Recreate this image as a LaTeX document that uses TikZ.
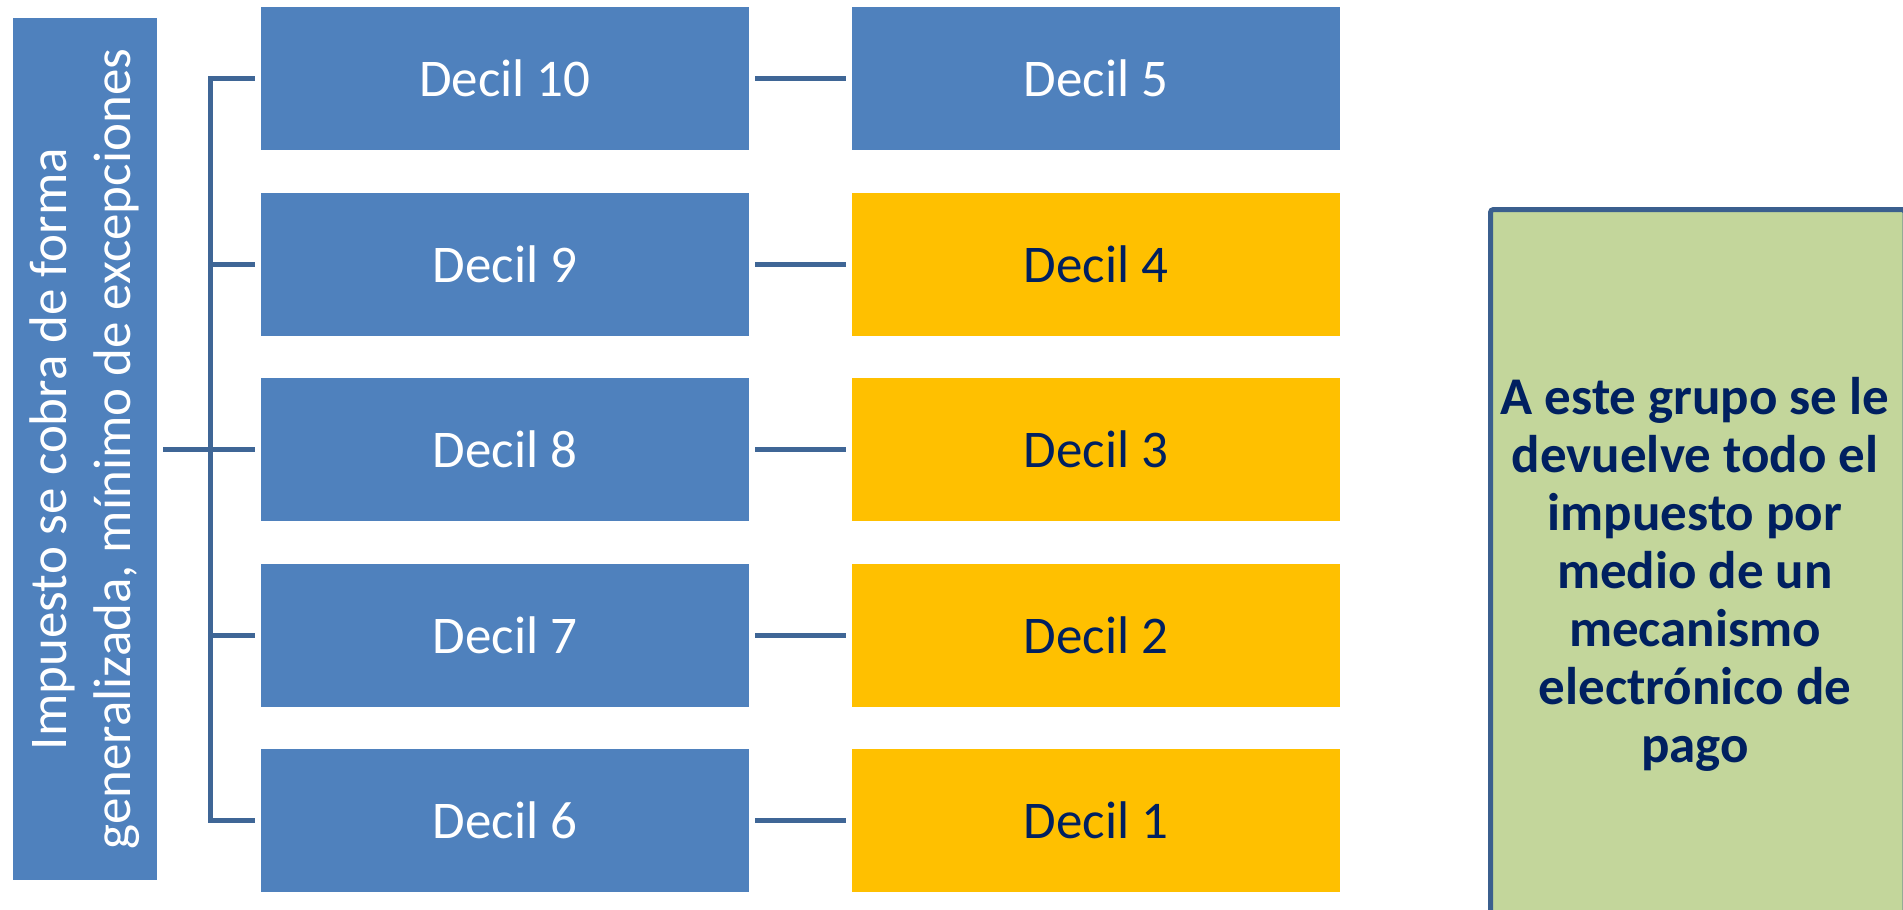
\documentclass[tikz,border=0pt]{standalone}
\usepackage{fontspec}
\setmainfont{Carlito}
\definecolor{boxblue}{HTML}{4F81BD}
\definecolor{boxyellow}{HTML}{FFC000}
\definecolor{boxgreen}{HTML}{C3D69B}
\definecolor{linkblue}{HTML}{3F6696}
\definecolor{greenedge}{HTML}{3B5F8E}
\definecolor{navy}{HTML}{002060}
\begin{document}
\begin{tikzpicture}[x=1pt,y=-1pt,
  decilbox/.style={rectangle, inner sep=0pt, minimum width=488pt, minimum height=143pt,
    font=\fontsize{53}{64}\selectfont},
  bluebox/.style={decilbox, fill=boxblue, text=white},
  yellowbox/.style={decilbox, fill=boxyellow, text=navy},
  conn/.style={draw=linkblue, line width=5pt}]
\useasboundingbox (0,0) rectangle (1903,910);
\clip (0,0) rectangle (1903,910);
% left box
\node[rectangle, fill=boxblue, text=white, inner sep=0pt, minimum width=144pt, minimum height=862pt,
  anchor=center] (L) at (85,449) {};
\node[rotate=90, text=white, align=center, font=\fontsize{53}{64}\selectfont] (Lt) at (L.center)
  {Impuesto se cobra de forma\\generalizada, mínimo de excepciones};
% columns
\node[bluebox] (d10) at (505,78.5) {Decil 10};
\node[bluebox] (d9) at (505,264) {Decil 9};
\node[bluebox] (d8) at (505,449.5) {Decil 8};
\node[bluebox] (d7) at (505,635) {Decil 7};
\node[bluebox] (d6) at (505,820.5) {Decil 6};
\node[bluebox] (d5) at (1096,78.5) {Decil 5};
\node[yellowbox] (d4) at (1096,264) {Decil 4};
\node[yellowbox] (d3) at (1096,449.5) {Decil 3};
\node[yellowbox] (d2) at (1096,635) {Decil 2};
\node[yellowbox] (d1) at (1096,820.5) {Decil 1};
% green box
\node[rectangle, draw=greenedge, line width=5pt, fill=boxgreen, rounded corners=3pt,
  minimum width=414.5pt, minimum height=731.5pt, inner sep=0pt] (G) at (1697.75,575.25) {};
\node[text=navy, align=center, font=\bfseries\fontsize{53}{58}\selectfont] (Gt) at (1695,574)
  {A este grupo se le\\devuelve todo el\\impuesto por\\medio de un\\mecanismo\\electrónico de\\pago};
% connectors
\coordinate (J) at (210,449.5);
\draw[conn] ([xshift=6pt]L.east |- d8.west) -- ([xshift=-6pt]d8.west);
\draw[conn] ([xshift=-6pt]d10.west) -- (d10.west -| J) -- (d6.west -| J) -- ([xshift=-6pt]d6.west);
\draw[conn] (d9.west -| J) -- ([xshift=-6pt]d9.west);
\draw[conn] (d7.west -| J) -- ([xshift=-6pt]d7.west);
\foreach \a/\b in {d10/d5, d9/d4, d8/d3, d7/d2, d6/d1}{
  \draw[conn] ([xshift=6pt]\a.east) -- ([xshift=-6pt]\b.west);
}
\end{tikzpicture}
\end{document}
